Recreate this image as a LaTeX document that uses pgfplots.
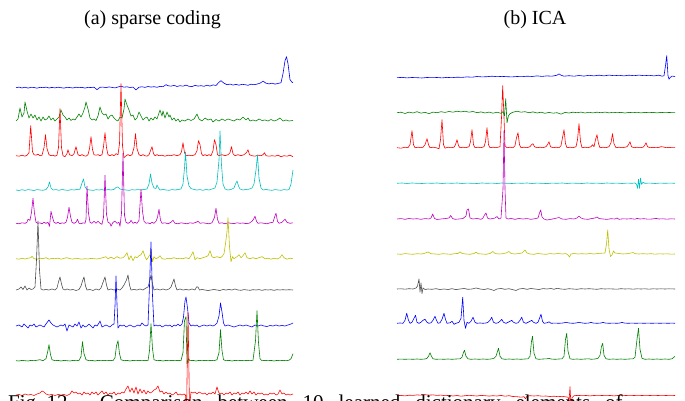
\documentclass[border=0pt]{standalone}
\usepackage{pgfplots}
\pgfplotsset{compat=1.18}
\usepackage{fontspec}
\setmainfont{Liberation Serif}
\definecolor{cB}{rgb}{0,0,1}
\definecolor{cG}{rgb}{0,0.5,0}
\definecolor{cR}{rgb}{1,0,0}
\definecolor{cC}{rgb}{0,0.75,0.75}
\definecolor{cM}{rgb}{0.75,0,0.75}
\definecolor{cY}{rgb}{0.75,0.75,0}
\definecolor{cK}{rgb}{0.3,0.3,0.3}
\begin{document}
\begin{tikzpicture}
\useasboundingbox (0,0) rectangle (685pt,401pt);
\clip (0,0) rectangle (685pt,401pt);
\begin{axis}[at={(0,0)}, anchor=south west, scale only axis, width=685pt, height=401pt,
  xmin=0, xmax=685, ymin=0, ymax=401, hide axis, clip=true, no markers,
  every axis plot/.append style={line width=0.6pt, line join=round},
  off/.style={y filter/.expression={y+#1}}]
% ---------------- (a) sparse coding ----------------
\addplot[cB, off=313.3] coordinates {(16,0)(19,0.6)(22,-0.3)(25,0.5)(28,-0.4)(31,0.4)(34,0.2)(37,-0.5)(40,0.4)(43,0)(46,0.6)(49,-0.3)(52,0.3)(55,-0.2)(58,0.5)(61,0)(64,-0.4)(67,0.4)(70,0.1)(73,-0.3)(76,0.5)(79,0)(82,0.3)(85,-0.4)(88,0.3)(91,0.2)(94,0.5)(97,-2)(100,0.4)(103,0.6)(106,0)(109,0.8)(112,0.3)(115,-0.2)(118,0.7)(121,1.5)(124,0.5)(127,0.9)(130,0.2)(133,0.6)(136,-2.2)(139,0.5)(142,0.9)(145,0.3)(148,1.2)(151,0.6)(154,1)(157,0.4)(160,1.3)(163,1)(166,3)(168,2)(171,1.5)(174,2.4)(177,1.2)(180,2)(183,1.5)(186,2.6)(189,1.4)(192,1.1)(195,2.3)(198,1.6)(201,2)(204,1.4)(207,2.5)(210,1.6)(213,2.8)(216,2.2)(219,5.5)(221,7)(224,4.5)(227,3)(230,3.6)(233,2.6)(236,3.3)(239,2.5)(242,3.4)(245,3)(248,2.4)(251,3.5)(254,3)(257,3.6)(260,4.5)(263,6.5)(266,4.5)(269,3.8)(272,4.5)(275,3.6)(278,4.2)(281,5)(283,14)(285,27)(286.5,31)(288,24)(290,8)(292,5.5)(293,5)};
\addplot[cG, off=280] coordinates {(16,0)(18,2)(20,13)(22,4)(24,8)(25,19)(27,10)(29,3)(31,7)(33,3)(35,6)(37,1)(39,4)(41,0)(43,4)(45,1)(47,2)(49,5)(51,1)(53,3)(55,0)(57,2)(59,4)(61,11)(63,6)(65,4)(67,1)(69,3)(71,0.5)(73,2)(75,1)(77,4)(79,7)(81,4)(83,8)(85,14)(86,19)(88,12)(90,3)(92,1)(94,2)(96,0.5)(98,5)(100,14)(102,8)(104,6)(106,7)(108,2)(110,5)(112,6)(114,3)(116,1)(118,0)(120,4)(122,3)(124,12)(125,22)(127,16)(129,11)(131,5)(133,6)(135,1)(137,3)(139,9)(141,5)(143,1)(145,3)(147,4)(149,0)(151,3)(153,1)(155,4)(157,2)(159,8)(160,11)(162,5)(163,10)(165,3)(167,9)(169,4)(170,6)(172,1)(174,3)(176,0)(178,2)(180,-1)(182,1)(185,0)(188,2)(191,0.5)(194,2)(197,7)(199,2)(202,0)(205,3)(208,1)(211,2)(213,-1)(216,1.5)(219,0)(222,2)(225,0.5)(228,2)(231,1)(234,0)(237,2)(240,1)(243,4)(246,1)(248,3)(250,0)(253,1)(256,0)(259,2)(262,0.5)(265,1)(268,0)(271,1.5)(274,0)(277,1)(280,3)(283,0)(286,1)(289,0)(293,0.5)};
\addplot[cR, off=245.3] coordinates {(16,0)(19,-0.5)(22,0.5)(25,-0.5)(27,0.5)(29,3)(30.7,30)(32.5,4)(34,1)(36,0.5)(38,1.5)(40,0)(42,0.5)(44,8)(45.5,21)(47,7)(49,1)(51,0)(53,0.5)(55,-0.5)(57,0.5)(58.5,8)(60,47)(61.5,8)(63,0)(65,-1)(67,2)(68,6)(69.5,1)(72,0)(74,2)(76,9)(78,1)(80,0)(82,1)(84,0)(86,-0.5)(88,1)(89.5,7)(91,19)(92.5,6)(94,1)(96,0.5)(98,1)(100,0)(102,1)(103.5,9)(105,23)(106.5,8)(108,1)(110,0)(112,1)(114,0)(116,2)(118,1)(119.5,12)(121,72)(122.5,10)(124,-2)(126,0)(128,1)(130,0)(132,1)(134,8)(135.5,22)(137,7)(139,1)(141,0)(143,1)(145,0)(147,-0.5)(149,1)(150.5,5)(152,9)(153.5,2)(155,0)(157,1)(159,0)(162,0.5)(165,-0.5)(168,0.5)(171,0)(174,1)(177,0)(180,1)(181.5,4)(183,13)(184.5,3)(186,0)(189,0.5)(192,0)(195,1)(197,5)(198.5,15)(200,11)(201.5,2)(203,0)(205,1)(207,0)(209,1)(211,0)(213,5)(214.5,16)(216,11)(217.5,1)(219,0)(222,1)(225,0)(228,1)(230,3)(231.5,9)(233,2)(235,0)(238,1)(241,0)(244,1)(246.5,3)(248,6)(249.5,1)(252,0)(255,-0.5)(258,0.5)(261,0)(263,1)(264.5,3)(266,0)(269,-0.5)(272,0)(275,-0.5)(278,0.5)(281,-1)(284,0)(287,-0.5)(290,0.5)(293,-1)};
\addplot[cC, off=211] coordinates {(16,0)(19,-0.5)(22,0.3)(25,-0.4)(28,0.4)(31,0)(34,-0.5)(37,0.4)(40,0)(43,-0.3)(46,0.5)(48,3)(49.5,8)(51,2)(53,0)(56,0.4)(59,-0.3)(62,0.5)(65,0)(68,-0.4)(71,0.3)(74,0)(77,0.5)(80,0.8)(82,7)(83.5,11)(85,3)(87,0.5)(90,0)(93,-0.4)(96,0.3)(99,0)(102,0.4)(105,-0.3)(108,0.5)(111,0)(114,0.6)(116,2.5)(118,3)(120,1)(123,0.3)(126,0)(129,-0.4)(132,0.3)(135,0)(138,0.4)(141,0)(144,0.5)(147,1)(149,6)(150.5,16)(152,7)(154,2)(156,1.5)(157,5)(158.5,2)(160,0)(163,0.5)(166,0)(169,-0.3)(172,0.4)(175,0)(178,0.5)(181,1)(183,6)(184.5,22)(185.5,38)(187,14)(189,4)(191,1.5)(194,0.5)(197,0)(200,0.4)(203,-0.3)(206,0.5)(209,0)(212,1)(215,2)(217,8)(219,30)(220,59)(221.5,25)(223,6)(225,1)(228,0)(231,0.5)(234,2)(235.5,6)(237,9)(238.5,4)(240,1)(243,0)(246,0.5)(249,0.8)(252,2)(254,6)(256,20)(257.5,35)(259,12)(261,2)(263,0)(266,0.5)(269,0)(272,-0.3)(275,0.4)(278,0)(281,-0.3)(284,0.4)(287,0)(289,0.5)(291,6)(293,20)};
\addplot[cM, off=177.7] coordinates {(16,0)(19,-0.5)(22,0.5)(25,0)(27,1)(28,4)(30,3)(31.5,11)(33,25)(34.5,10)(36,1)(38,0)(40,0.5)(42,-0.5)(44,1)(46,0)(48,1)(49.5,-3)(51,12)(52.5,6)(54,1)(56,0)(58,1)(60,-0.5)(62,0.5)(64,0)(66,1)(67.5,6)(69,16)(70.5,7)(72,1)(74,0)(76,1)(77.5,4)(79,0)(81,-0.5)(83,0.5)(85,0)(86,4)(87,37)(88.5,10)(90,1)(92,0)(94,2)(96,0)(98,2)(100,0)(102,-1)(103.5,6)(105,48)(106.5,9)(108,1)(110,0)(111,-3)(113,1)(115,2)(117,0)(119,1)(120,-3)(121.5,10)(123,70)(124.5,8)(126,1)(128,0)(130,1)(131,3)(133,0)(135,1)(137,0)(139,3)(141,34)(142.5,12)(144,2)(146,0)(148,0.5)(150,-0.5)(152,1)(154,0)(156,2)(157.5,6)(159,14)(160.5,3)(162,0)(165,0.5)(168,-0.5)(171,1)(173,3)(175,0)(178,-0.5)(181,0.5)(184,0)(187,-0.5)(190,0.5)(193,0)(196,1)(198,2)(200,0)(203,0.5)(206,0)(209,-0.5)(212,0.5)(214.5,6)(216,15)(217.5,4)(219,0)(222,0.5)(225,-0.5)(228,0.5)(231,0)(234,-0.3)(237,0.5)(240,0)(243,0.3)(246,-0.3)(249,0)(252,2)(253.5,4)(255,7)(256.5,2)(258,0)(261,0.5)(264,0)(267,-0.5)(270,0.5)(273,1)(274.5,6)(276,10)(277.5,2)(279,0)(282,1)(283,2)(285,4)(287,1)(290,0)(293,0.5)};
\addplot[cY, off=142.3] coordinates {(16,0)(19,-0.5)(22,0.5)(25,-0.3)(28,0.5)(31,1)(32,2.5)(34,0)(37,-0.5)(40,0.5)(43,0)(46,1)(49,-0.5)(52,0.3)(55,0)(58,0.6)(61,-0.5)(64,0.4)(67,1)(70,0)(73,-0.4)(76,0.5)(79,0)(82,-0.5)(85,0)(88,-0.3)(91,0.3)(94,0)(97,-0.3)(100,0.4)(103,1)(106,2)(108,0)(111,1.5)(114,0)(117,2)(120,0.5)(123,1)(125,3)(127,6)(129,-1)(131,3)(133,-2)(135,2)(137,1)(139,3)(141,4)(143,8)(145,2)(146.5,-1)(148,1)(150,4)(151,8)(152.5,-3)(154,2)(156,0)(158,1)(160,3)(162,0)(165,-0.5)(168,0.5)(171,0)(174,1)(177,0)(180,0.5)(183,0)(186,1)(189,0)(191,3)(193,7)(195,-1)(197,1)(200,0)(203,1)(206,2)(208,3)(210,8)(212,2)(214,1)(217,2)(220,1)(222,2)(224,5)(225.5,15)(227,27)(228,41)(229.5,12)(231,-3)(232.5,2)(234,0)(237,2)(239,4)(241,1)(243,3)(245,6)(247,1)(250,0)(253,1)(256,0)(259,1)(262,2)(265,0)(268,0.5)(271,-0.5)(274,0.5)(277,-0.3)(280,1)(282,4)(284,1)(287,-0.5)(290,0.5)(293,0)};
\addplot[cK, off=111] coordinates {(16,0)(19,1)(21,3)(23,0.5)(25,4)(27,0)(29,2)(31,0.5)(33,1)(35,3)(36.5,30)(38,69)(39.5,20)(41,1)(43,0)(46,0.5)(49,0)(52,1)(55,0)(57,2)(58.5,8)(60,13)(61.5,6)(63,1)(65,0)(67,1)(70,0)(73,0.5)(76,-0.5)(79,0.5)(81,4)(82.5,9)(84,13)(85.5,4)(87,0)(90,0.5)(93,-0.5)(96,1)(99,0)(101,2)(103.5,9)(105,13)(106.5,5)(108,0)(111,1)(114,0)(117,1)(120,0)(122,2)(124,5)(126.5,10)(128,15)(129.5,5)(131,0)(134,0.5)(137,0)(140,1)(143,0)(146,2)(148,3)(150,10)(151,15)(152.5,6)(154,0)(157,1)(160,0)(163,1)(166,0)(169,1)(171,3)(172.5,7)(174,11)(175.5,4)(177,0)(180,1)(183,0)(186,0.5)(189,0)(192,1)(195,0)(196.5,3)(198,3)(199.5,0)(202,0.5)(205,0)(208,-0.5)(211,0)(214,0.5)(217,0)(220,-0.5)(223,0.5)(226,0)(229,0.5)(232,0)(235,1)(238,0)(241,-0.3)(244,0.4)(247,0)(250,-0.3)(253,0.3)(256,0)(259,0.4)(262,-0.3)(265,0.3)(268,0)(271,0.3)(274,-0.3)(277,0.3)(280,0)(283,0.3)(286,0)(289,0.3)(293,0)};
\addplot[cB, off=75] coordinates {(16,0)(19,1)(22,-1)(24,2)(26,0)(28,-2)(30,1)(32,0)(34,2)(36,-1)(38,0)(40,1)(42,0)(44,-1)(46,2)(49,6)(51,3)(53,1)(55,0)(57,-1)(59,0)(61,1)(63,0)(65,2)(67,-5)(69,1)(71,0)(73,-1)(75,2)(77,0)(79,4)(81,-2)(83,1)(85,-1)(87,0)(89,2)(91,0)(93,-2)(95,1)(97,0)(99,3)(100,5)(102,-1)(104,0)(106,1)(108,0)(110,-1)(112,1)(114,2)(115,20)(116,50)(117,22)(118,-2)(120,1)(122,0)(124,1)(126,-1)(128,0)(130,1)(132,0)(134,-1)(136,0)(138,1)(140,0)(142,3)(144,1)(146,0)(148,1)(149.5,40)(151,84)(152.5,30)(154,0)(156,1)(158,0)(160,1)(162,-1)(164,0)(166,1)(168,0)(170,1)(172,-1)(174,1)(176,0)(178,2)(180,0)(182,2)(183.5,9)(185,25)(186,29)(187.5,18)(189,3)(191,0)(193,1)(195,0)(197,1)(199,-1)(201,0)(204,1)(207,0)(210,1)(213,0)(215,1)(217,3)(219,10)(220.5,23)(222,14)(223.5,3)(225,0)(228,1)(231,0)(234,-1)(237,0)(240,1)(243,0)(246,1)(249,0)(252,-1)(255,1)(258,0)(261,1)(264,0)(267,-0.5)(270,0.5)(273,0)(276,1)(279,0)(282,0.5)(285,0)(288,1)(291,2)(293,3)};
\addplot[cG, off=40.3] coordinates {(16,0)(19,-0.3)(22,0.3)(25,0)(28,-0.3)(31,0.3)(34,0)(37,0.5)(40,1)(43,0)(46,2)(47.5,8)(49,16)(50.5,6)(52,1)(55,0)(58,0.3)(61,-0.3)(64,0.3)(67,0)(70,-0.3)(73,0.3)(76,0)(79,0.3)(81,4)(82.5,19)(84,7)(86,1)(89,0)(92,0.3)(95,-0.3)(98,0.3)(101,0)(104,0.3)(107,0)(110,0.3)(113,0)(115,3)(116.5,15)(118,20)(119.5,7)(121,1)(124,0)(127,0.3)(130,-0.3)(133,0.3)(136,0)(139,0.3)(142,0)(145,0.3)(148,0)(149.5,10)(151,37)(152.5,12)(154,1)(157,0)(160,0.3)(163,-0.3)(166,0.3)(169,0)(172,0.3)(175,0)(178,0.3)(181,0)(183,8)(184.5,40)(186,44)(187,-3)(188.5,2)(190,0)(193,0.3)(196,-0.3)(199,0.3)(202,0)(205,0.3)(208,0)(211,0.3)(214,0)(217,1)(219,8)(220.5,31)(222,10)(223.5,1)(226,0)(229,0.3)(232,-0.3)(235,0.3)(238,0)(241,0.3)(244,0)(247,0.3)(250,0)(253,0.5)(255.5,20)(257,50)(258.5,18)(260,2)(262,0)(265,0.3)(268,0)(271,0.3)(274,-0.3)(277,0.3)(280,0)(283,0.3)(286,0)(289,0.5)(291,2)(293,7)};
\addplot[cR, off=6] coordinates {(16,0)(19,0.5)(22,-0.5)(25,1)(28,0)(31,0.5)(34,-0.5)(37,1)(40,2)(42,4)(44,3)(46,1)(49,0)(52,0.5)(55,-0.5)(58,0.5)(61,0)(64,0.5)(67,-0.5)(70,1)(72,4)(74,2)(76,3)(78,1)(80,2)(82,0)(84,3)(86,1)(88,2)(90,0)(92,3)(94,1)(96,3)(98,0)(100,2)(102,4)(104,1)(106,3)(108,0)(110,2)(112,1)(114,3)(116,0)(118,2)(120,1)(122,3)(124,2)(126,6)(128,9)(130,3)(132,7)(134,2)(136,8)(138,1)(140,6)(142,2)(144,5)(146,1)(148,4)(150,2)(152,3)(154,5)(156,6)(158,9)(160,3)(162,4)(164,1)(166,3)(168,1)(170,2)(172,0)(174,1)(176,3)(178,0)(180,1)(182,0)(184,1)(185.5,0)(186.5,-20)(188,82)(189.5,-12)(191,3)(193,2)(195,3)(197,1)(199,3)(201,2)(203,1)(205,2)(207,0)(209,2)(211,1)(213,3)(215,1)(217,8)(218.5,3)(220,1)(222,2)(224,0)(226,2)(228,1)(230,3)(232,0)(234,2)(236,1)(238,3)(240,0)(242,2)(244,1)(246,3)(248,1)(250,4)(252,1)(254,3)(256,0)(258,2)(260,1)(262,2)(264,0)(266,1)(268,0)(270,2)(272,1)(274,2)(276,0)(278,1)(280,5)(282,1)(284,2)(286,0)(288,1)(290,0)(293,1)};
% ---------------- (b) ICA ----------------
\addplot[cB, off=323.3] coordinates {(397,0)(402,0.3)(407,-0.2)(412,0.2)(417,0)(422,-0.3)(427,0.2)(432,0)(437,0.2)(442,-0.2)(447,0.3)(452,0)(457,0.5)(462,0.3)(467,0.8)(472,0.5)(477,1.2)(482,0.8)(487,1)(492,1.5)(497,1)(502,1.3)(507,1)(512,0.8)(517,1.2)(522,1)(527,1.5)(532,1.2)(537,1.8)(542,1.3)(547,1.8)(552,1.5)(557,2.5)(559,3.8)(561,2.5)(564,1.5)(569,2)(574,1.5)(579,2.2)(584,1.6)(589,2.4)(594,1.8)(599,2.5)(604,1.8)(609,2.6)(614,2)(619,2.4)(624,1.8)(629,2.5)(634,2)(639,2.6)(644,2)(649,2.4)(654,1.8)(659,2.5)(662,1.5)(664,2)(665.5,12)(666.7,22)(668,2)(669,-1.5)(670,0)(672,1.6)(675,1.2)};
\addplot[cR, off=253.3] coordinates {(397,0)(401,-0.5)(405,0.5)(408,0)(410,3)(412,17)(413.5,3)(415,0)(418,0.5)(421,0)(423,0.5)(425,3)(427,9)(428.5,3)(430,0)(433,0.5)(436,0)(439,-1)(440.5,8)(442,28)(443.5,3)(445,-0.5)(448,0.5)(451,0)(454,0.5)(455.5,3)(457,8)(458.5,2)(460,0)(463,0.5)(466,0)(469,1)(470.5,6)(472,18)(473.5,3)(475,0)(478,0.5)(481,0)(484,1)(485.5,6)(487,20)(488.5,3)(490,0)(493,0.5)(496,0)(498,0.5)(500,1)(501.5,30)(502.7,62)(504,30)(505,2)(507,0)(510,0.5)(513,0)(515,2)(516.5,10)(518,15)(519.5,3)(521,0)(524,0.5)(527,0)(530,1)(531.5,3)(533,4)(534.5,1)(537,0)(540,0.5)(543,0)(546,1)(547.5,3)(549,6)(550.5,1)(553,0)(556,0.5)(559,0)(561,2)(562.5,10)(564,18)(565.5,4)(567,0)(570,0.5)(573,0)(576,1)(577.5,8)(579,24)(580.5,6)(582,0)(585,0.5)(588,0)(591,1)(592.5,3)(594,1)(595.5,8)(597,13)(598.5,4)(600,0)(603,0.5)(606,0)(609,1)(611,5)(612.5,14)(614,4)(616,0)(619,0.5)(622,0)(625,0.5)(627,1)(628.5,3)(630,6)(631.5,1)(634,0)(637,0.5)(640,0)(643,0.5)(644.5,2)(646,5)(647.5,1)(650,0)(653,0.3)(656,0)(659,0.3)(661,1)(663,0.8)(666,0)(669,0.3)(672,0)(675,0)};
\addplot[cG, off=288.3] coordinates {(397,0)(401,0.5)(405,-0.8)(409,0.6)(413,-0.3)(417,1)(421,-0.5)(425,0.4)(429,-1)(433,0.6)(437,0)(441,1)(445,0.3)(449,1.2)(453,0.5)(457,1.5)(461,0.8)(465,1.5)(469,0.5)(473,1.2)(477,0)(481,0.8)(485,-0.3)(489,0.6)(493,-0.5)(497,0.5)(501,-0.6)(503,1)(504.5,-3)(505.7,14)(507,-10)(508.5,-3)(510,-1)(513,0.5)(517,1.5)(521,0.5)(525,1)(529,0)(533,0.8)(537,-0.3)(541,0.5)(545,-0.6)(549,0.3)(553,-0.5)(557,0)(561,-1.5)(565,0.3)(569,-0.3)(573,0.5)(577,0)(581,0.6)(585,-0.3)(589,0.4)(593,-0.2)(597,0.5)(601,0)(605,0.6)(609,-0.2)(613,0.4)(617,0)(621,0.3)(625,-0.3)(629,0.3)(633,0)(637,0.4)(641,-0.2)(645,0.3)(649,0)(653,0.3)(657,-0.2)(661,0.3)(665,0)(669,0.2)(675,0)};
\addplot[cC, off=217.7] coordinates {(397,0)(402,0.3)(407,-0.2)(412,0.3)(417,0)(422,-0.2)(427,0.2)(432,0)(437,0.3)(442,-0.2)(447,0.2)(452,0)(457,0.3)(462,-0.2)(467,0.2)(472,0)(477,-0.2)(482,0.3)(487,0)(492,0.2)(497,-0.2)(502,0.3)(507,0)(512,-0.2)(517,0.2)(522,0)(527,0.3)(532,-0.2)(537,0.2)(542,0)(547,-0.3)(552,0.2)(557,0)(562,0.3)(567,-0.2)(572,0.2)(577,0)(582,-0.2)(587,0.3)(592,0)(597,0.2)(602,-0.2)(607,0.3)(612,0)(617,0.2)(622,-0.2)(627,0.2)(632,0)(635,0.3)(636.5,-1)(637.5,-5)(638.5,4)(639.5,-5)(640.5,5)(641.5,-1)(643,1)(645,0)(650,0.2)(655,-0.2)(660,0.2)(665,0)(670,0.2)(675,0)};
\addplot[cM, off=182] coordinates {(397,0)(401,0.4)(405,-0.3)(409,0.5)(413,0)(417,0.3)(421,-0.3)(425,0.4)(429,0)(431,1)(432.7,5)(434.5,0.5)(437,-0.5)(441,0)(445,0.4)(449,1)(450.7,3.5)(452.5,0.5)(455,-0.3)(459,0)(463,0.5)(466,3)(467,9)(468.5,10)(470,1)(473,0)(477,0.5)(481,-0.3)(483,1)(484.5,4)(486,6)(487.5,1)(490,0)(493,0.5)(495,1)(497,2.5)(499,0)(501,1)(503,30)(504,88)(505,30)(506,1)(508,0)(511,0.5)(515,-0.3)(519,0.5)(523,0)(527,0.4)(531,-0.3)(535,0.3)(538,1)(539.5,6)(540.7,9)(542,2)(544,0)(547,-1)(551,-0.3)(555,0.5)(559,1.5)(562,0)(566,-0.3)(570,0.4)(574,0)(577,1)(579,3)(581,1)(584,0)(588,-0.3)(592,0.5)(595,1)(597,2)(599,0.5)(603,0)(607,-0.4)(611,0.3)(615,0)(617,1)(619,-0.3)(623,0.2)(627,0)(631,0.3)(635,-0.2)(637,0.6)(640,0)(644,0.3)(648,-0.2)(652,0)(656,0.6)(659,0)(663,0.2)(667,-0.2)(671,0.2)(675,0)};
\addplot[cY, off=147] coordinates {(397,0)(401,-0.3)(405,0.4)(409,0)(413,-0.3)(417,0.3)(421,0)(424,0.5)(428,2)(431,0.3)(435,0)(439,-0.3)(443,0.3)(447,0)(451,-0.3)(455,0.4)(458,0.5)(460,2.2)(462,0.5)(466,0)(470,-0.3)(474,0.5)(476,2)(478,0.3)(482,0)(486,-0.3)(490,0.5)(493,2.5)(495,0.5)(499,0)(503,0.3)(506,1)(509,2.5)(511,0.5)(515,0)(519,0.5)(522,1)(525,4)(527,1)(530,0)(534,-0.3)(538,0.5)(542,0)(546,-0.3)(550,0.4)(554,0)(558,0.5)(562,0)(566,0.4)(568,-1)(569.5,-3)(571,0)(574,0.5)(578,0)(582,0.3)(586,0)(590,0.5)(594,0)(598,0.5)(602,0.8)(605,1)(606.5,10)(607.7,24)(609,5)(610.5,-2.5)(612,-1)(613.5,3)(615,1)(619,0.5)(623,0)(627,0.3)(631,1)(633,1.5)(635,0.3)(639,0)(643,0.3)(647,0)(651,0.3)(655,-0.2)(659,0.2)(663,0)(667,0.2)(671,-0.2)(675,0)};
\addplot[cK, off=112] coordinates {(397,0)(401,0.2)(405,-0.2)(409,0.3)(413,0)(416,1)(417.5,3)(419,10)(420,-3)(421,6)(422,-4.5)(423,1)(425,-0.5)(428,0)(432,-0.3)(436,0.3)(440,-0.5)(444,0)(448,-0.5)(452,0.3)(456,-0.6)(460,0)(464,0.5)(468,-0.3)(472,0)(476,1)(480,0)(484,-0.5)(488,0.3)(491,-0.5)(494,-1.5)(497,0)(501,0.5)(505,-0.3)(509,0.3)(513,-0.7)(516,-1.5)(519,0)(523,0.5)(527,-0.3)(531,0.5)(535,0)(539,-0.5)(543,0.4)(547,0)(551,0.5)(554,-0.3)(557,0.7)(561,0)(565,-0.3)(569,0.3)(573,0)(577,-0.3)(581,0.3)(585,0)(589,0.3)(593,0)(597,-0.3)(601,0.3)(605,0)(609,0.2)(613,0)(617,-0.2)(621,0.3)(625,0)(629,0.2)(633,-0.2)(637,0.2)(641,0)(645,0.2)(649,-0.2)(653,0.2)(657,0)(661,0.2)(665,0)(669,0.2)(675,0)};
\addplot[cB, off=77.7] coordinates {(397,0)(400,0.3)(403,0)(405,3)(406.7,10)(408.5,3)(410,0)(412,1)(414,5)(415.5,8)(417,1)(419,0)(421,1)(423,3)(425,4)(427,1)(429,0)(431,0.5)(433,3)(435,7)(436.5,3)(438,0)(440,0.5)(442,4)(444,10)(445.5,4)(447,0)(450,0.5)(452,2)(454,-1)(456,0)(459,1)(461,5)(462.7,26)(464,3)(465.5,-5)(467,1)(469,0)(471,2)(473,6)(475,1)(477,0)(480,0.3)(483,0)(486,0.3)(488,1)(490,3)(491.7,6)(493.5,1)(496,0)(498,0.5)(500,2)(501.7,4)(503.5,1)(506,0)(508,1)(510,2)(511.7,3)(513.5,1)(516,0)(518,0.5)(520,3)(521.7,6)(523.5,1)(526,0)(528,1)(530,2)(531.7,3)(533.5,1)(536,0)(538,1)(539.5,5)(541,9)(542.5,2)(544,0)(547,0.5)(549,1.5)(551,0)(555,0.2)(559,0)(563,0.3)(566,1)(569,0.3)(573,0)(576,0.3)(579,1)(581,0.5)(585,0)(589,0.3)(591,1)(593,0.3)(597,0)(601,0.3)(603,1)(605,0.3)(609,0)(613,0.2)(617,0)(620,0.3)(622,1)(624,0.3)(628,0)(632,0.2)(636,0)(640,0.2)(644,0)(648,0.2)(652,0)(656,0.2)(660,0)(664,0.2)(668,0)(672,0.2)(675,0)};
\addplot[cG, off=41.7] coordinates {(397,0)(401,0.2)(405,0)(409,0.2)(413,0)(417,0.3)(421,0)(425,0.3)(427,1)(428.5,3)(430,6.5)(431.5,3)(433,0.5)(436,0)(440,0.2)(444,0)(448,0.3)(452,0)(456,0.3)(460,0.5)(462,2)(463.5,7)(464.5,9)(466,3)(468,0.5)(471,0)(475,0.3)(479,0)(483,0.3)(487,0)(491,0.3)(494,1)(496,3)(497.5,8)(498.5,11)(500,3)(502,0.5)(505,0)(509,0.3)(513,0)(517,0.3)(521,0)(525,0.3)(528,0.5)(530,3)(531.5,18)(532.5,23)(534,6)(536,0.5)(539,0)(543,0.3)(547,0.5)(549,1)(551,0.3)(555,0)(559,0.3)(562,0.5)(564,3)(565.5,20)(566.7,26)(568,8)(570,0.5)(573,0)(577,0.3)(581,0)(585,0.3)(589,0.5)(591,0)(595,0.3)(598,1)(600,4)(601.5,13)(602.7,16)(604,4)(606,0.5)(609,0)(613,0.3)(617,0)(621,0.3)(625,0)(629,0.3)(633,0.5)(635,2)(637,20)(638.5,31)(640,10)(642,1)(645,0)(649,0.3)(653,0)(657,0.3)(661,0)(665,0.3)(669,0)(672,0.5)(675,3)};
\addplot[cR, off=5.3] coordinates {(397,0)(401,0.3)(405,-0.2)(409,0.5)(413,0.3)(417,0.8)(421,0.5)(425,1)(429,0.6)(433,0.8)(437,0.3)(441,0.6)(445,0)(449,0.3)(453,-0.3)(457,0.2)(461,-0.5)(465,0)(469,0.4)(473,0)(477,-0.3)(481,0.3)(485,0)(489,-0.4)(493,0)(497,-0.3)(501,0.3)(505,-0.5)(509,0)(513,-0.8)(517,-1)(521,-1.5)(524,-1)(525.5,-3)(527,-0.5)(530,0)(534,-0.3)(538,0)(542,-0.5)(546,-0.3)(550,-0.8)(554,-0.5)(558,-1)(562,-0.6)(566,-1.2)(568,-1.5)(569,-6)(570,9)(571,-10)(572,-2)(574,0)(578,0.3)(582,0)(586,0.2)(590,-0.2)(594,0.2)(598,0)(602,0.2)(606,0)(610,0.2)(614,-0.2)(618,0.2)(622,0)(626,0.2)(630,0)(634,0.2)(638,0)(642,0.2)(646,0)(650,0.2)(654,0)(658,0.2)(662,0)(666,0.2)(670,0)(675,0.2)};
% titles
\node[anchor=base, font=\fontsize{20}{24}\selectfont] at (axis cs:152.5,376) {(a) sparse coding};
\node[anchor=base, font=\fontsize{20}{24}\selectfont] at (axis cs:535,376) {(b) ICA};
\end{axis}
% caption, of which only the top shows (as in the reference)
\node[anchor=base west, inner sep=0pt, font=\fontsize{21}{25}\selectfont] at (8pt,-9pt) {Fig.~12.\hspace{27pt}{\spaceskip=15pt Comparison between 10 learned dictionary elements of}};
\end{tikzpicture}
\end{document}
